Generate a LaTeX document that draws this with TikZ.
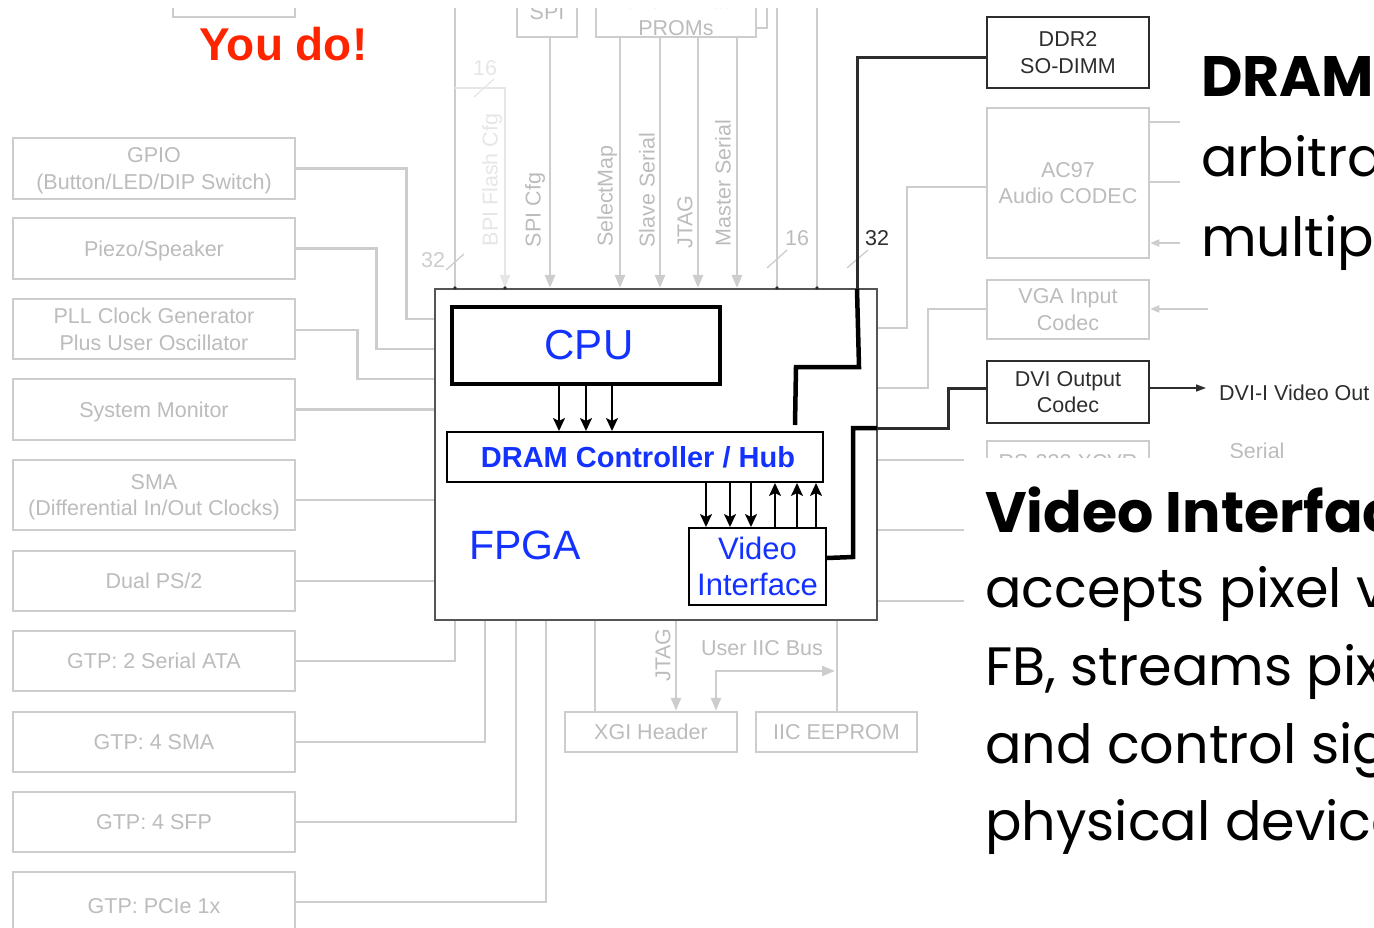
\documentclass[tikz,border=0pt]{standalone}
\usepackage{fontspec}
\setmainfont{Liberation Sans}
\newfontfamily\notefont{Poppins}
\usetikzlibrary{arrows.meta}
\definecolor{lineg}{RGB}{205,205,205}
\definecolor{textg}{RGB}{188,188,188}
\definecolor{faintg}{RGB}{230,230,230}
\definecolor{edgeg}{RGB}{85,85,85}
\definecolor{darkln}{RGB}{45,45,45}
\definecolor{hwblue}{RGB}{20,50,255}
\definecolor{youred}{RGB}{255,36,0}
\tikzset{
  gbox/.style={draw=lineg, line width=2.5pt, fill=white, inner sep=0pt, text=textg, align=center, text depth=0pt, font=\fontsize{21.5}{26.5}\selectfont},
  dbox/.style={draw=darkln, line width=2.8pt, fill=white, inner sep=0pt, text=darkln, align=center, text depth=0pt, font=\fontsize{21.5}{26.5}\selectfont},
  gline/.style={draw=lineg, line width=2.5pt},
  fline/.style={draw=faintg, line width=2.5pt},
  garrow/.style={gline, -{Triangle[length=13pt,width=10pt]}},
  gtip/.style={-{Triangle[length=9pt,width=7pt]}},
  glabel/.style={text=textg, font=\fontsize{21.5}{21.5}\selectfont, inner sep=0pt},
  vlabel/.style={glabel, rotate=90},
  bus/.style={draw=darkln, line width=3pt},
  fatbus/.style={draw=black, line width=4.5pt},
  hwarrow/.style={draw=black, line width=2pt, -{Stealth[length=13pt,width=12pt,inset=3pt]}},
  hwblock/.style={draw=black, line width=2pt, fill=white, inner sep=0pt, text=hwblue, align=center},
  note/.style={anchor=base west, inner sep=0pt, font={\notefont\fontsize{54}{54}\selectfont}},
  notebf/.style={anchor=base west, inner sep=0pt, font={\notefont\bfseries\fontsize{57}{57}\selectfont}},
  tick/.style={draw=lineg, line width=1.3pt},
  jdot/.style={fill=darkln},
}
\begin{document}
\begin{tikzpicture}[x=1pt,y=-1pt]
\useasboundingbox (0,0) rectangle (1374,928);

% ---------------- configuration sources along the top
\node[gbox, minimum width=122pt, minimum height=60pt] (topbox) at (234,-13) {};
\node[gbox, minimum width=60pt, minimum height=50pt] (spi) at (547,12) {SPI};
\draw[gline, fill=white] (607,-30) rectangle (767,28);
\node[gbox, minimum width=160pt, minimum height=46pt] (proms) at (676,14) {Platform Flash\\PROMs};

% ---------------- the FPGA
\node[draw=edgeg, line width=2pt, fill=white, minimum width=442pt, minimum height=331pt, inner sep=0pt] (fpga) at (656,454.5) {};

% top buses into the FPGA
\coordinate (t32) at (455,0);
\coordinate (t16) at (455,88);
\coordinate (t777) at (777,0);
\coordinate (t817) at (817,0);
\draw[gline] (t32) -- (fpga.north -| t32);
\draw[fline, -{Triangle[length=13pt,width=10pt]}] (t16) -| (fpga.north -| 505,0);
\draw[garrow] (spi.south -| 550,0) -- (fpga.north -| 550,0);
\foreach \x in {620,660,698,737}
  \draw[garrow] (proms.south -| \x,0) -- (fpga.north -| \x,0);
\draw[gline] (t777) -- (fpga.north -| t777);
\draw[gline] (t817) -- (fpga.north -| t817);
\foreach \x in {455,505,777,817}
  \fill[jdot] (fpga.north -| \x,0) circle (1.8pt);

% bus widths
\draw[tick] (446,270) -- (464,254);
\node[glabel, text=lineg] (l32) at (433,260) {32};
\draw[tick, draw=faintg] (474,97) -- (494,79);
\node[glabel, text=faintg] (l16a) at (485,68) {16};
\draw[tick] (767,268) -- (787,250);
\node[glabel] (l16b) at (797,238) {16};
\draw[tick] (847,268) -- (868,250);
\node[glabel, text=darkln] (l32b) at (877,238) {32};

% configuration mode labels
\node[vlabel, text=faintg] (bpi) at (492,180) {BPI Flash Cfg};
\node[vlabel] (spicfg) at (535,210) {SPI Cfg};
\node[vlabel] (selmap) at (607,196) {SelectMap};
\node[vlabel] (slser) at (647,190) {Slave Serial};
\node[vlabel] (jtagt) at (685,222) {JTAG};
\node[vlabel] (mser) at (723,183) {Master Serial};

% ---------------- peripherals on the left
\node[gbox, minimum width=282pt, minimum height=61pt] (gpio) at (154,168.5) {GPIO\\(Button/LED/DIP Switch)};
\node[gbox, minimum width=282pt, minimum height=61pt] (piezo) at (154,248.5) {Piezo/Speaker};
\node[gbox, minimum width=282pt, minimum height=60pt] (pll) at (154,329) {PLL Clock Generator\\Plus User Oscillator};
\node[gbox, minimum width=282pt, minimum height=61pt] (sysmon) at (154,409.5) {System Monitor};
\node[gbox, minimum width=282pt, minimum height=70pt] (sma) at (154,495) {SMA\\(Differential In/Out Clocks)};
\node[gbox, minimum width=282pt, minimum height=60pt] (ps2) at (154,581) {Dual PS/2};
\node[gbox, minimum width=282pt, minimum height=60pt] (sata) at (154,661) {GTP: 2 Serial ATA};
\node[gbox, minimum width=282pt, minimum height=60pt] (gsma) at (154,742) {GTP: 4 SMA};
\node[gbox, minimum width=282pt, minimum height=60pt] (sfp) at (154,822) {GTP: 4 SFP};
\node[gbox, minimum width=282pt, minimum height=68pt] (pcie) at (154,906) {GTP: PCIe 1x};

\draw[gline] (gpio.east) -- ++(110,0) |- (fpga.west |- 0,319);
\draw[gline] (piezo.east) -- ++(80,0) |- (fpga.west |- 0,349);
\draw[gline] (pll.east |- 0,330) -- ++(61,0) |- (fpga.west |- 0,379);
\draw[gline] (sysmon.east) -- (fpga.west |- sysmon.east);
\draw[gline] (sma.east |- 0,500) -- (fpga.west |- 0,500);
\draw[gline] (ps2.east) -- (fpga.west |- ps2.east);
\draw[gline] (sata.east) -| (fpga.south -| 455,0);
\draw[gline] (gsma.east) -| (fpga.south -| 485,0);
\draw[gline] (sfp.east) -| (fpga.south -| 516,0);
\draw[gline] (pcie.east |- 0,902) -| (fpga.south -| 546,0);

% ---------------- headers below
\node[gbox, minimum width=172pt, minimum height=40pt] (xgi) at (651,732) {XGI Header};
\node[gbox, minimum width=161pt, minimum height=40pt] (iic) at (836.5,732) {IIC EEPROM};
\coordinate (iicbus) at (835,671);
\draw[gline] (fpga.south -| 595,0) -- (xgi.north -| 595,0);
\draw[garrow] (fpga.south -| 676,0) -- (xgi.north -| 676,0);
\draw[gline] (fpga.south -| 837,0) -- (iic.north -| 837,0);
\draw[gline, {Triangle[length=13pt,width=10pt]}-{Triangle[length=13pt,width=10pt]}] (xgi.north -| 716,0) |- (iicbus);
\node[vlabel] (jtagb) at (663,655) {JTAG};
\node[glabel] (iiclbl) at (762,648) {User IIC Bus};

% ---------------- devices on the right
\node[dbox, minimum width=162pt, minimum height=71pt] (ddr2) at (1068,52.5) {DDR2\\SO-DIMM};
\node[gbox, minimum width=162pt, minimum height=150pt] (ac97) at (1068,183) {AC97\\Audio CODEC};
\node[gbox, minimum width=162pt, minimum height=59pt] (vga) at (1068,309.5) {VGA Input\\Codec};
\node[dbox, minimum width=162pt, minimum height=62pt] (dvi) at (1068,392) {DVI Output\\Codec};
\node[gbox, minimum width=162pt, minimum height=42pt] (rs232) at (1068,462) {RS-232 XCVR};
\node[glabel] (serial) at (1257,451) {Serial};
\node[anchor=west, inner sep=0pt, text=darkln, font=\fontsize{21.5}{21.5}\selectfont] (dviout) at (1219,393) {DVI-I Video Out};

\coordinate (acout1) at (1180,122);
\coordinate (acout2) at (1180,182);
\coordinate (acin) at (1180,243);
\coordinate (vgain) at (1208,309);
\draw[gline] (ac97.east |- acout1) -- (acout1);
\draw[gline] (ac97.east |- acout2) -- (acout2);
\draw[gline, line width=1.5pt, gtip] (acin) -- (ac97.east |- acin);
\draw[gline, line width=1.5pt, gtip] (vgain) -- (vga.east |- vgain);
\draw[draw=darkln, line width=1.5pt, shorten >=13pt, -{Triangle[length=10pt,width=7pt]}] (dvi.east |- 0,388) -- (dviout.west |- 0,388);

\draw[gline] (ac97.west |- 0,187) -- (907,187) |- (fpga.east |- 0,328);
\draw[gline] (vga.west |- 0,309) -- (928,309) |- (fpga.east |- 0,388);
\coordinate (rsin) at (990,530);
\coordinate (rsout) at (990,601);
\draw[gline] (fpga.east |- 0,460) -- (rs232.west |- 0,460);
\draw[gline] (fpga.east |- rsin) -- (rsin);
\draw[gline] (fpga.east |- rsout) -- (rsout);

% ---------------- blocks inside the FPGA
\node[hwblock, line width=4.5pt, minimum width=268pt, minimum height=77pt, font=\fontsize{42}{42}\selectfont] (cpu) at (586,345.5) {\hspace*{6pt}CPU};
\node[hwblock, minimum width=376pt, minimum height=50pt, font=\bfseries\fontsize{29}{29}\selectfont] (dram) at (635,457) {\hspace*{6pt}DRAM Controller / Hub};
\node[hwblock, minimum width=137pt, minimum height=77pt, text depth=0pt, font=\fontsize{31}{36}\selectfont] (video) at (757.5,566.5) {Video\\Interface};
\node[inner sep=0pt, text=hwblue, font=\fontsize{41}{41}\selectfont] (fpgalbl) at (525,545) {FPGA};

\foreach \x in {559,586,612}
  \draw[hwarrow] (cpu.south -| \x,0) -- (dram.north -| \x,0);
\foreach \x in {706,730,751}
  \draw[hwarrow] (dram.south -| \x,0) -- (video.north -| \x,0);
\foreach \x in {775,797,816}
  \draw[hwarrow] (video.north -| \x,0) -- (dram.south -| \x,0);

% memory bus to the SO-DIMM
\coordinate (ddrin) at (857,289);
\coordinate (ddrstub) at (795,425);
\draw[bus, line join=miter] (ddr2.west |- 0,58) -| (ddrin);
\draw[fatbus, line join=miter] (ddrin) -- (859,367) -- (796,367) -- (ddrstub);

% video path to the DVI codec
\coordinate (vidout) at (877,428);
\draw[fatbus, line join=miter] (video.east |- 0,558) -- (853,557) -- (853,428) -- (vidout);
\draw[bus, line join=miter] (vidout) -- (948,428) -- (948,388) -- (dvi.west |- 0,388);

% ---------------- annotation panels
\fill[white] (964,458) rectangle (1390,940);
\fill[white] (-10,-60) rectangle (1390,8);

\node[anchor=base, inner sep=0pt, text=youred, font=\bfseries\fontsize{46}{46}\selectfont] (youdo) at (283.5,61) {You do!};

\node[notebf] (dramhead) at (1201,97) {DRAM Controller};
\node[note] (dram2) at (1201,177) {arbitrates};
\node[note] (dram3) at (1201,257) {multiple};

\node[notebf] (vidhead) at (985,532) {Video Interface};
\node[note] (vid2) at (985,607) {accepts pixel values};
\node[note] (vid3) at (985,685) {FB, streams pixels};
\node[note] (vid4) at (985,763) {and control signals};
\node[note] (vid5) at (985,840) {physical device};
\end{tikzpicture}
\end{document}
